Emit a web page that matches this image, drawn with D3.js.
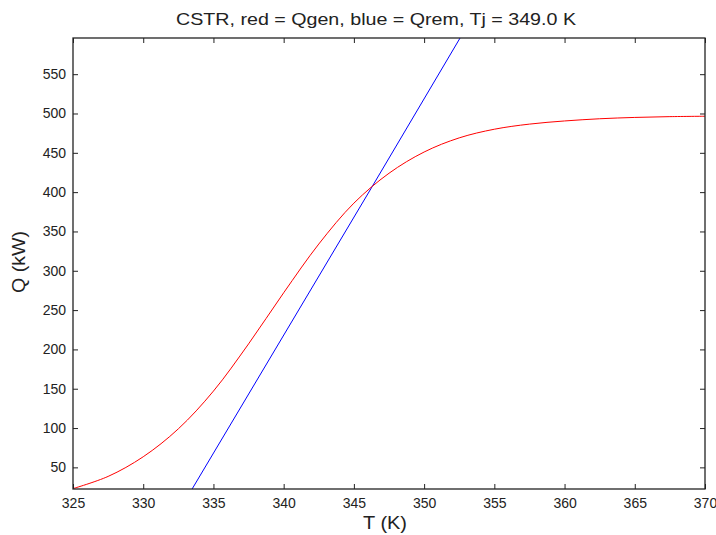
<!DOCTYPE html>
<html>
<head>
<meta charset="utf-8">
<script src="https://cdn.jsdelivr.net/npm/d3@7"></script>
<style>
  body { margin: 0; background: #fff; }
  text { font-family: "Liberation Sans", Arial, sans-serif; fill: #222; }
</style>
</head>
<body>
<script>
// Qgen (rood)
var tGen = [325, 327.5, 330, 332.5, 335, 337.5, 340, 342.5, 345, 347.5, 350, 352.5, 355, 357.5, 360, 362.5, 365, 367.5, 370];
var qGen = [23, 38.5, 63.5, 99, 147, 207, 272, 334, 386, 424, 451, 469, 480, 486.5, 490.5, 493.3, 495, 496, 496.5];

// Qrem (blauw), rechte lijn
var tRem = [333.48, 346.3, 352.56];
var qRem = [22.5, 407, 596];

var xTicks = [325, 330, 335, 340, 345, 350, 355, 360, 365, 370];
var yTicks = [50, 100, 150, 200, 250, 300, 350, 400, 450, 500, 550];

var titel = "CSTR, red = Qgen, blue = Qrem, Tj = 349.0 K";

var breedte = 716, hoogte = 535;
var marge = {boven: 38, rechts: 11, beneden: 46, links: 73};
var w = breedte - marge.links - marge.rechts;
var h = hoogte - marge.boven - marge.beneden;

var svg = d3.select("body").append("svg")
    .attr("width", breedte)
    .attr("height", hoogte);

var x = d3.scaleLinear().domain([325, 370]).range([0, w]);
var y = d3.scaleLinear().domain([22.5, 596]).range([h, 0]);

var g = svg.append("g")
    .attr("transform", "translate(" + marge.links + "," + marge.boven + ")");

g.append("clipPath").attr("id", "clip")
  .append("rect").attr("width", w).attr("height", h);

var lijn = d3.line()
    .x(function(d) { return x(d[0]); })
    .y(function(d) { return y(d[1]); });

g.append("path")
    .datum(d3.zip(tRem, qRem))
    .attr("clip-path", "url(#clip)")
    .attr("fill", "none")
    .attr("stroke", "#0000ff")
    .attr("stroke-width", 1)
    .attr("d", lijn);

g.append("path")
    .datum(d3.zip(tGen, qGen))
    .attr("clip-path", "url(#clip)")
    .attr("fill", "none")
    .attr("stroke", "#ff0000")
    .attr("stroke-width", 1)
    .attr("d", lijn.curve(d3.curveCatmullRom));

// assen met ticks naar binnen
function stijl(sel) {
  sel.select(".domain").remove();
  sel.selectAll(".tick line").attr("stroke", "#222");
  sel.selectAll(".tick text").style("font-size", "14px");
}

g.append("g")
    .attr("transform", "translate(0," + h + ")")
    .call(d3.axisBottom(x).tickValues(xTicks).tickSize(-5).tickPadding(9).tickFormat(d3.format("d")))
    .call(stijl);

g.append("g")
    .call(d3.axisTop(x).tickValues(xTicks).tickSize(-5).tickFormat(""))
    .call(stijl);

g.append("g")
    .call(d3.axisLeft(y).tickValues(yTicks).tickSize(-5).tickPadding(7).tickFormat(d3.format("d")))
    .call(stijl);

g.append("g")
    .attr("transform", "translate(" + w + ",0)")
    .call(d3.axisRight(y).tickValues(yTicks).tickSize(-5).tickFormat(""))
    .call(stijl);

g.append("rect")
    .attr("width", w)
    .attr("height", h)
    .attr("fill", "none")
    .attr("stroke", "#222")
    .attr("stroke-width", 1.3);

svg.append("text")
    .attr("x", 376)
    .attr("y", 25)
    .attr("text-anchor", "middle")
    .attr("textLength", 400)
    .attr("lengthAdjust", "spacingAndGlyphs")
    .style("font-size", "17px")
    .text(titel);

svg.append("text")
    .attr("x", 385)
    .attr("y", 529)
    .attr("text-anchor", "middle")
    .attr("textLength", 44)
    .attr("lengthAdjust", "spacingAndGlyphs")
    .style("font-size", "18px")
    .text("T (K)");

svg.append("text")
    .attr("transform", "translate(25,262) rotate(-90)")
    .attr("text-anchor", "middle")
    .attr("textLength", 62)
    .attr("lengthAdjust", "spacingAndGlyphs")
    .style("font-size", "18px")
    .text("Q (kW)");
</script>
</body>
</html>
